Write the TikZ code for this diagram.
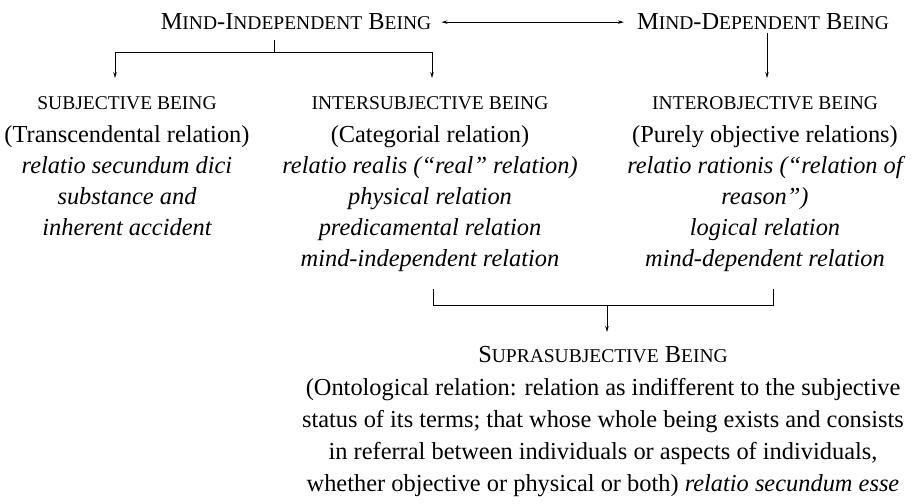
\documentclass[tikz,border=0pt]{standalone}
\usepackage{fontspec}
\setmainfont{Liberation Serif}
\usetikzlibrary{arrows.meta}
% reduced capitals standing in for small caps
\newcommand\smc[1]{{\fontsize{19.5}{19.5}\selectfont #1}}

\begin{document}
\begin{tikzpicture}[x=1pt,y=-1pt,
  txt/.style={anchor=base,inner sep=0pt,font=\fontsize{24.4}{31}\selectfont},
  it/.style={txt,font=\fontsize{24.4}{31}\selectfont\itshape},
  link/.style={line width=0.75pt,black},
  tip/.style={link,-{Stealth[length=6pt,width=3.5pt]}},
  both/.style={link,{Stealth[length=6pt,width=3.5pt]}-{Stealth[length=6pt,width=3.5pt]}},
]
\useasboundingbox (0,0) rectangle (915,503);
\fill[white] (0,0) rectangle (915,503);

% top level
\node[txt] (mi) at (296,30) {M\smc{IND}-I\smc{NDEPENDENT} B\smc{EING}};
\node[txt] (md) at (763,30) {M\smc{IND}-D\smc{EPENDENT} B\smc{EING}};
\draw[both,shorten <=10pt,shorten >=13pt] (mi.east) -- (md.west);

% left column
\node[txt] (sb)  at (127,109.5) {\smc{SUBJECTIVE BEING}};
\node[txt] (sb1) at (127,142) {(Transcendental relation)};
\node[it]  (sb2) at (127,173) {relatio secundum dici};
\node[it]  (sb3) at (127,204) {substance and};
\node[it]  (sb4) at (127,235) {inherent accident};

% middle column
\node[txt] (is)  at (430,109.5) {\smc{INTERSUBJECTIVE BEING}};
\node[txt] (is1) at (430,142) {(Categorial relation)};
\node[it]  (is2) at (430,173) {relatio realis (“real” relation)};
\node[it]  (is3) at (430,204) {physical relation};
\node[it]  (is4) at (430,235) {predicamental relation};
\node[it]  (is5) at (430,266) {mind-independent relation};

% right column
\node[txt] (io)  at (765,109.5) {\smc{INTEROBJECTIVE BEING}};
\node[txt] (io1) at (765,142) {(Purely objective relations)};
\node[it]  (io2) at (765,173) {relatio rationis (“relation of};
\node[it]  (io3) at (765,204) {reason”)};
\node[it]  (io4) at (765,235) {logical relation};
\node[it]  (io5) at (765,266) {mind-dependent relation};

% branching below the mind-independent heading
\coordinate (tickA) at (274,40);
\coordinate (brM) at (274,52);
\coordinate (brL) at (115,52);
\coordinate (brR) at (432,52);
\coordinate (sbIn) at (115,78);
\coordinate (isIn) at (432,78);
\draw[link] (tickA) -- (brM);
\draw[link] (brL) -- (brR);
\draw[tip] (brL) -- (sbIn);
\draw[tip] (brR) -- (isIn);

% mind-dependent to interobjective
\coordinate (mdOut) at (767,33);
\coordinate (ioIn) at (767,78);
\draw[tip] (mdOut) -- (ioIn);

% joining bracket below the two relational columns
\coordinate (bL0) at (433,289);
\coordinate (bL) at (433,305);
\coordinate (bR) at (773,305);
\coordinate (bR0) at (773,289);
\coordinate (bM) at (607,305);
\coordinate (suIn) at (607,332);
\draw[link] (bL0) -- (bL) -- (bR) -- (bR0);
\draw[tip] (bM) -- (suIn);

% bottom block
\node[txt] (su)  at (603,362) {S\smc{UPRASUBJECTIVE} B\smc{EING}};
\node[txt] (su1) at (603,395) {(Ontological relation: relation as indifferent to the subjective};
\node[txt] (su2) at (603,427) {status of its terms; that whose whole being exists and consists};
\node[txt] (su3) at (603,459) {in referral between individuals or aspects of individuals,};
\node[txt] (su4) at (603,491) {whether objective or physical or both) \textit{relatio secundum esse}};
\end{tikzpicture}
\end{document}
